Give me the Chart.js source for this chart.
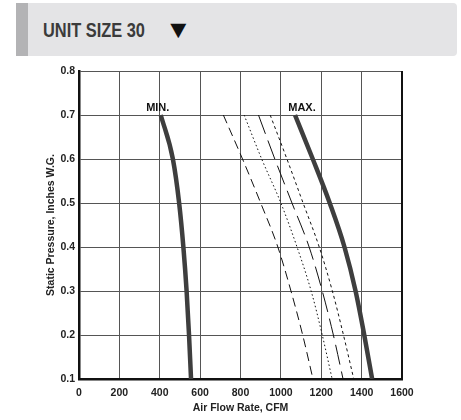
<!DOCTYPE html>
<html>
<head>
<meta charset="utf-8">
<script src="https://cdn.jsdelivr.net/npm/chart.js@4.4.1/dist/chart.umd.min.js"></script>
<style>
  html, body { margin: 0; padding: 0; background: #fff; }
  body { width: 461px; height: 420px; position: relative; overflow: hidden;
         font-family: "Liberation Sans", Arial, sans-serif; }
  .unit-header { position: absolute; left: 16px; top: 3px; width: 441px; height: 53px;
                 background: #e4e4e6; border-radius: 0 4px 4px 0; }
  .unit-header .bar { position: absolute; left: 0; top: 0; width: 12px; height: 100%; background: #b3b3b5; }
  .unit-header .title { position: absolute; left: 27px; top: 15px; font-size: 21px; font-weight: bold;
                        color: #3b3b3b; line-height: 24px; white-space: nowrap;
                        transform: scaleX(0.78); transform-origin: 0 0; }
  .unit-header .arrow { position: absolute; left: 155px; top: 16px; font-size: 19px; line-height: 20px;
                        color: #111; font-family: "DejaVu Sans", sans-serif; transform: scaleX(1.1); }
  .chart-box { position: absolute; left: 0; top: 58px; width: 440px; height: 356px; }
</style>
</head>
<body>
<div class="unit-header">
  <div class="bar"></div>
  <div class="title">UNIT SIZE 30</div>
  <div class="arrow">▼</div>
</div>
<div class="chart-box"><canvas id="fan-chart"></canvas></div>
<script>
// Static pressure points (in. W.G.) shared by all curves
const pressure = [0.7, 0.6, 0.5, 0.4, 0.3, 0.2, 0.1];

// Air flow (CFM) at each pressure point
const minFlow = [405, 465, 496, 517, 533, 545, 555];
const maxFlow = [1070, 1158, 1242, 1315, 1370, 1413, 1452];
const flowA = [715, 810, 900, 985, 1050, 1108, 1159];
const flowB = [818, 905, 1000, 1080, 1150, 1205, 1254];
const flowC = [889, 970, 1055, 1140, 1205, 1260, 1308];
const flowD = [947, 1030, 1110, 1190, 1255, 1310, 1361];

const xTicks = [0, 200, 400, 600, 800, 1000, 1200, 1400, 1600];
const yTicks = [0.1, 0.2, 0.3, 0.4, 0.5, 0.6, 0.7, 0.8];

const FONT = '"Liberation Sans", Arial, sans-serif';

function toPoints(flows) {
    return flows.map((x, i) => ({ x: x, y: pressure[i] }));
}

function curve(flows, width, color, dash, label) {
    return {
        label: label,
        data: toPoints(flows),
        borderColor: color,
        borderWidth: width,
        borderDash: dash,
        pointRadius: 0,
        fill: false,
        cubicInterpolationMode: 'monotone'
    };
}

// MIN./MAX. text above the top point of the thick curves
const curveLabels = {
    id: 'curveLabels',
    afterDatasetsDraw(chart) {
        const ctx = chart.ctx;
        const xs = chart.scales.x, ys = chart.scales.y;
        const items = [
            { text: 'MIN.', x: minFlow[0], y: pressure[0], dx: -3 },
            { text: 'MAX.', x: maxFlow[0], y: pressure[0], dx: 7 }
        ];
        ctx.save();
        ctx.font = 'bold 11px ' + FONT;
        ctx.fillStyle = '#111';
        ctx.textAlign = 'center';
        ctx.textBaseline = 'alphabetic';
        items.forEach(it => {
            ctx.fillText(it.text, xs.getPixelForValue(it.x) + it.dx, ys.getPixelForValue(it.y) - 4);
        });
        ctx.restore();
    }
};

// heavy frame on the right edge of the plot
const frameRight = {
    id: 'frameRight',
    afterDraw(chart) {
        const a = chart.chartArea;
        const ctx = chart.ctx;
        ctx.save();
        ctx.strokeStyle = '#111';
        ctx.lineWidth = 2;
        ctx.beginPath();
        ctx.moveTo(a.right, a.top);
        ctx.lineTo(a.right, a.bottom);
        ctx.stroke();
        ctx.restore();
    }
};

new Chart(document.getElementById('fan-chart'), {
    type: 'line',
    data: {
        datasets: [
            curve(minFlow, 4.5, '#3e3e3e', [], 'MIN.'),
            curve(maxFlow, 4.5, '#3e3e3e', [], 'MAX.'),
            curve(flowA, 1, '#111', [9, 5], 'A'),
            curve(flowB, 1, '#111', [1.5, 2.5], 'B'),
            curve(flowC, 1, '#111', [20, 7], 'C'),
            curve(flowD, 1, '#111', [3, 3], 'D')
        ]
    },
    plugins: [curveLabels, frameRight],
    options: {
        responsive: true,
        maintainAspectRatio: false,
        animation: false,
        layout: { padding: { top: 13, right: 38, left: 38, bottom: 0 } },
        plugins: {
            legend: { display: false },
            tooltip: { enabled: false }
        },
        scales: {
            x: {
                type: 'linear',
                min: 0,
                max: 1600,
                afterBuildTicks: s => { s.ticks = xTicks.map(v => ({ value: v })); },
                afterFit: s => { s.height = 35; },
                grid: { color: '#555', lineWidth: 1, drawTicks: false },
                border: { color: '#111', width: 2.5 },
                ticks: {
                    padding: 8,
                    color: '#222',
                    font: { family: FONT, size: 10.5, weight: 'bold' },
                    callback: v => String(v)
                },
                title: {
                    display: true,
                    text: 'Air Flow Rate, CFM',
                    color: '#222',
                    padding: { top: 0, bottom: 0 },
                    font: { family: FONT, size: 10.5, weight: 'bold' }
                }
            },
            y: {
                type: 'linear',
                min: 0.1,
                max: 0.8,
                afterBuildTicks: s => { s.ticks = yTicks.map(v => ({ value: v })); },
                afterFit: s => { s.width = 41; },
                grid: { color: '#555', lineWidth: 1, drawTicks: false },
                border: { color: '#111', width: 2.5 },
                ticks: {
                    padding: 4,
                    color: '#222',
                    font: { family: FONT, size: 10.5, weight: 'bold' },
                    callback: v => v.toFixed(1)
                },
                title: {
                    display: true,
                    text: 'Static Pressure, Inches W.G.',
                    color: '#222',
                    padding: { top: 7, bottom: 0 },
                    font: { family: FONT, size: 10.5, weight: 'bold' }
                }
            }
        }
    }
});
</script>
</body>
</html>
